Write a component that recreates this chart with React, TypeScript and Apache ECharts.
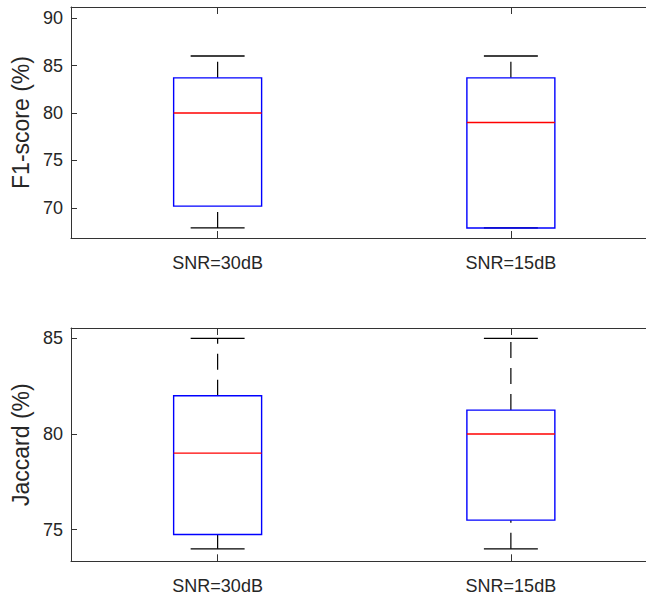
import React, { useEffect, useRef } from "react";
import * as echarts from "echarts";

const categories = ["SNR=30dB", "SNR=15dB"];

// F1-score (%) box statistics
const f1Min = [67.9, 67.9];
const f1Q1 = [70.2, 67.9];
const f1Median = [80, 79];
const f1Q3 = [83.7, 83.7];
const f1Max = [86, 86];

// Jaccard (%) box statistics
const jacMin = [74, 74];
const jacQ1 = [74.75, 75.5];
const jacMedian = [79, 80];
const jacQ3 = [82, 81.25];
const jacMax = [85, 85];

const f1Range = [66.84, 91.16];
const jacRange = [73.35, 85.54];

const FONT = "'Liberation Sans', Arial, Helvetica, sans-serif";
const AXIS_COLOR = "#333333";
const TEXT_COLOR = "#262626";
const CHART_WIDTH = 760;
const PLOT_RIGHT = 657.5;

function boxData(mn: number[], q1: number[], md: number[], q3: number[], mx: number[]) {
  return categories.map((_, i) => [i, mn[i], q1[i], md[i], q3[i], mx[i]]);
}

function renderBox(params: any, api: any) {
  const i = api.value(0);
  const band = api.size([1, 0])[0];
  const bw = band * 0.3;
  const cw = band * 0.184;
  const pMin = api.coord([i, api.value(1)]);
  const pQ1 = api.coord([i, api.value(2)]);
  const pMed = api.coord([i, api.value(3)]);
  const pQ3 = api.coord([i, api.value(4)]);
  const pMax = api.coord([i, api.value(5)]);
  const cx = pMed[0];
  const children: any[] = [];
  const whiskerStyle = { stroke: "#000000", lineWidth: 1.2, lineDash: [16, 10] };
  if (pMin[1] - pQ1[1] > 0.5) {
    children.push({ type: "line", shape: { x1: cx, y1: pMin[1], x2: cx, y2: pQ1[1] }, style: whiskerStyle });
  }
  if (pQ3[1] - pMax[1] > 0.5) {
    children.push({ type: "line", shape: { x1: cx, y1: pQ3[1], x2: cx, y2: pMax[1] }, style: whiskerStyle });
  }
  children.push({
    type: "line",
    shape: { x1: cx - cw / 2, y1: pMin[1], x2: cx + cw / 2, y2: pMin[1] },
    style: { stroke: "#000000", lineWidth: 1.3 },
  });
  children.push({
    type: "line",
    shape: { x1: cx - cw / 2, y1: pMax[1], x2: cx + cw / 2, y2: pMax[1] },
    style: { stroke: "#000000", lineWidth: 1.3 },
  });
  children.push({
    type: "rect",
    shape: { x: cx - bw / 2, y: pQ3[1], width: bw, height: pQ1[1] - pQ3[1] },
    style: { stroke: "#0000ff", lineWidth: 1.4, fill: null },
  });
  children.push({
    type: "line",
    shape: { x1: cx - bw / 2, y1: pMed[1], x2: cx + bw / 2, y2: pMed[1] },
    style: { stroke: "#ff0000", lineWidth: 1.4 },
  });
  return { type: "group", children };
}

function buildOption(name: string, range: number[], data: number[][], gridTop: number, gridHeight: number) {
  const xCommon = {
    type: "category",
    data: categories,
    gridIndex: 0,
    boundaryGap: true,
    axisLine: { show: true, onZero: false, lineStyle: { color: AXIS_COLOR } },
    axisTick: { show: true, inside: true, alignWithLabel: true, length: 7, lineStyle: { color: AXIS_COLOR } },
    splitLine: { show: false },
    splitArea: { show: false },
  };
  return {
    animation: false,
    grid: [{ show: false, left: 71, right: CHART_WIDTH - PLOT_RIGHT, top: gridTop, height: gridHeight }],
    xAxis: [
      {
        ...xCommon,
        position: "bottom",
        axisLabel: { show: true, margin: 16, fontSize: 18, color: TEXT_COLOR, fontFamily: FONT },
      },
      {
        ...xCommon,
        position: "top",
        axisLabel: { show: false },
      },
    ],
    yAxis: [
      {
        type: "value",
        gridIndex: 0,
        position: "left",
        min: range[0],
        max: range[1],
        minInterval: 5,
        maxInterval: 5,
        splitNumber: 4,
        name,
        nameLocation: "middle",
        nameRotate: 90,
        nameGap: 26,
        nameTextStyle: { fontSize: 23, color: TEXT_COLOR, fontFamily: FONT },
        axisLine: { show: true, onZero: false, lineStyle: { color: AXIS_COLOR } },
        axisTick: { show: true, inside: true, length: 6, lineStyle: { color: AXIS_COLOR } },
        axisLabel: {
          show: true,
          margin: 8,
          fontSize: 18,
          color: TEXT_COLOR,
          fontFamily: FONT,
          formatter: (v: number) => (Math.abs(v / 5 - Math.round(v / 5)) < 1e-6 ? String(Math.round(v)) : ""),
        },
        splitLine: { show: false },
        splitArea: { show: false },
      },
    ],
    series: [
      {
        type: "custom",
        name,
        xAxisIndex: 0,
        yAxisIndex: 0,
        renderItem: renderBox,
        encode: { x: 0, y: [1, 2, 3, 4, 5] },
        data,
        clip: false,
      },
    ],
  };
}

export default function App() {
  const topRef = useRef<HTMLDivElement>(null);
  const bottomRef = useRef<HTMLDivElement>(null);
  useEffect(() => {
    if (!topRef.current || !bottomRef.current) return;
    const top = echarts.init(topRef.current, undefined, { renderer: "svg" });
    const bottom = echarts.init(bottomRef.current, undefined, { renderer: "svg" });
    top.setOption(buildOption("F1-score (%)", f1Range, boxData(f1Min, f1Q1, f1Median, f1Q3, f1Max), 7, 231));
    bottom.setOption(buildOption("Jaccard (%)", jacRange, boxData(jacMin, jacQ1, jacMedian, jacQ3, jacMax), 28, 233.3));
    return () => {
      top.dispose();
      bottom.dispose();
    };
  }, []);
  return (
    <div style={{ position: "fixed", left: 0, top: 0, width: 646, height: 597, overflow: "hidden", background: "#fff" }}>
      <div ref={topRef} style={{ position: "absolute", left: 0, top: 0, width: CHART_WIDTH, height: 300 }} />
      <div ref={bottomRef} style={{ position: "absolute", left: 0, top: 300, width: CHART_WIDTH, height: 297 }} />
    </div>
  );
}
